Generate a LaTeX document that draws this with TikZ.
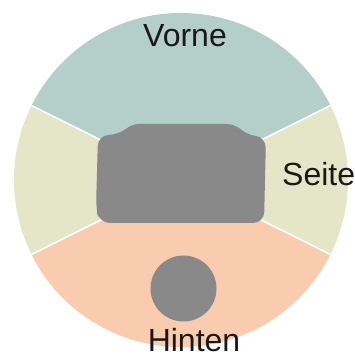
\documentclass[tikz,border=0pt]{standalone}
\usepackage{fontspec}
\setmainfont{Liberation Sans}
\usetikzlibrary{positioning}
\definecolor{frontcol}{HTML}{B4CEC9}
\definecolor{sidecol}{HTML}{E4E6C7}
\definecolor{backcol}{HTML}{F9CCAF}
\definecolor{seatcol}{HTML}{898989}
\tikzset{
  sector/.style={draw=none},
  divider/.style={draw=white, line width=1.6pt},
  seat/.style={fill=seatcol},
  zonetext/.style={inner sep=0pt, font=\fontsize{32}{32}\selectfont, text=black!90}
}
\begin{document}
\begin{tikzpicture}[x=1pt, y=1pt]
    \useasboundingbox (0,0) rectangle (355,358);
    \coordinate (c) at (181,178);

    % zones round the seat
    \fill[sector, frontcol] (c) -- ++(26.5:167) arc(26.5:153.5:167) -- cycle;
    \fill[sector, sidecol]  (c) -- ++(153.5:167) arc(153.5:206.5:167) -- cycle;
    \fill[sector, backcol]  (c) -- ++(206.5:167) arc(206.5:333.5:167) -- cycle;
    \fill[sector, sidecol]  (c) -- ++(-26.5:167) arc(-26.5:26.5:167) -- cycle;
    \foreach \a in {26.5,153.5,206.5,333.5}
      \draw[divider] (c) -- ++(\a:167);

    % table and head
    \fill[seat, rounded corners=11pt] (96,150) -- (98,223) -- (119,223)
      [rounded corners=7pt] -- (132,234) -- (234,234) -- (248,223)
      [rounded corners=11pt] -- (266,221) -- (264,135) -- (99,135) -- cycle;
    \fill[seat] (183.5,69.5) circle (33);

    \node[zonetext, anchor=base] (vorne) at (185,311) {Vorne};
    \node[zonetext, anchor=base west] (seite) at (282,172) {Seite};
    \node[zonetext, anchor=base] (hinten) at (194,6) {Hinten};
\end{tikzpicture}
\end{document}
